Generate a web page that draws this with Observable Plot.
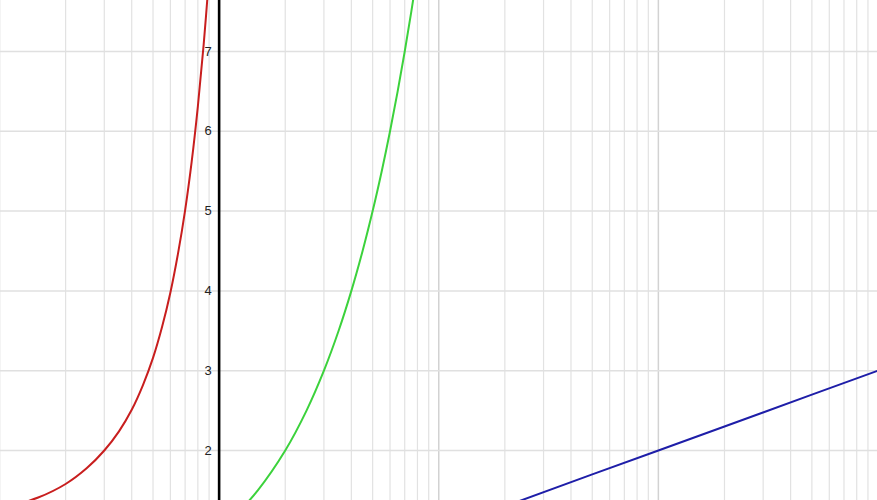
<!DOCTYPE html>
<html>
<head>
<meta charset="utf-8">
<script src="https://cdn.jsdelivr.net/npm/d3@7"></script>
<script src="https://cdn.jsdelivr.net/npm/@observablehq/plot@0.6"></script>
<style>
  html, body { margin: 0; padding: 0; background: #fff; }
  #chart svg { display: block; }
</style>
</head>
<body>
<div id="chart"></div>
<script>
// Values (log-scaled x axis, linear y axis)
const redX   = [0.10, 0.15, 0.20, 0.25, 0.30, 0.35, 0.40, 0.45, 0.50, 0.55, 0.60, 0.65, 0.70, 0.75, 0.80, 0.85, 0.90];
const redY   = [1.26, 1.41, 1.58, 1.78, 2.00, 2.24, 2.51, 2.82, 3.16, 3.55, 3.98, 4.47, 5.01, 5.62, 6.31, 7.08, 7.94];
const greenX = [1.2, 1.5, 2.0, 2.5, 3.0, 3.5, 4.0, 4.5, 5.0, 5.5, 6.0, 6.5, 7.0, 7.5, 8.0];
const greenY = [1.2, 1.5, 2.0, 2.5, 3.0, 3.5, 4.0, 4.5, 5.0, 5.5, 6.0, 6.5, 7.0, 7.5, 8.0];
const blueX  = [20, 50, 100, 200, 500, 1000];
const blueY  = [1.30, 1.70, 2.00, 2.30, 2.70, 3.00];

const yTicks = [2, 3, 4, 5, 6, 7];
const yTickLabels = ["2", "3", "4", "5", "6", "7"];
const yGrid = [1, 2, 3, 4, 5, 6, 7, 8];
const xMajorGrid = [0.1, 1, 10, 100, 1000];
const xMinorGrid = [0.2, 0.3, 0.4, 0.5, 0.6, 0.7, 0.8, 0.9,
                    2, 3, 4, 5, 6, 7, 8, 9,
                    20, 30, 40, 50, 60, 70, 80, 90,
                    200, 300, 400, 500, 600, 700, 800, 900];

const zip = (xs, ys) => xs.map((x, i) => ({x, y: ys[i]}));
const red = zip(redX, redY);
const green = zip(greenX, greenY);
const blue = zip(blueX, blueY);
const labels = yTicks.map((v, i) => ({y: v, label: yTickLabels[i]}));

const chart = Plot.plot({
  width: 877,
  height: 500,
  margin: 0,
  style: {background: "#fff"},
  x: {type: "log", domain: [0.1, 1000], range: [-1, 877.5], axis: null},
  y: {domain: [1.373, 7.639], range: [500, 0], axis: null},
  marks: [
    Plot.ruleX(xMinorGrid, {stroke: "#e2e2e2", strokeWidth: 1.2}),
    Plot.ruleX(xMajorGrid, {stroke: "#d2d2d2", strokeWidth: 1.5}),
    Plot.ruleY(yGrid, {stroke: "#e0e0e0", strokeWidth: 1.5}),
    Plot.line(red, {x: "x", y: "y", stroke: "#c81e1e", strokeWidth: 2, curve: "catmull-rom", clip: true}),
    Plot.line(green, {x: "x", y: "y", stroke: "#3cd23c", strokeWidth: 2, curve: "catmull-rom", clip: true}),
    Plot.line(blue, {x: "x", y: "y", stroke: "#1e1ea8", strokeWidth: 2, clip: true}),
    Plot.ruleX([1], {stroke: "#000", strokeWidth: 2.6}),
    Plot.text(labels, {x: () => 1, y: "y", text: "label", dx: -7.5, textAnchor: "end",
      fontSize: 13, fontFamily: "Liberation Sans, Arial, sans-serif", fill: "#222"})
  ]
});
document.getElementById("chart").appendChild(chart);
</script>
</body>
</html>
